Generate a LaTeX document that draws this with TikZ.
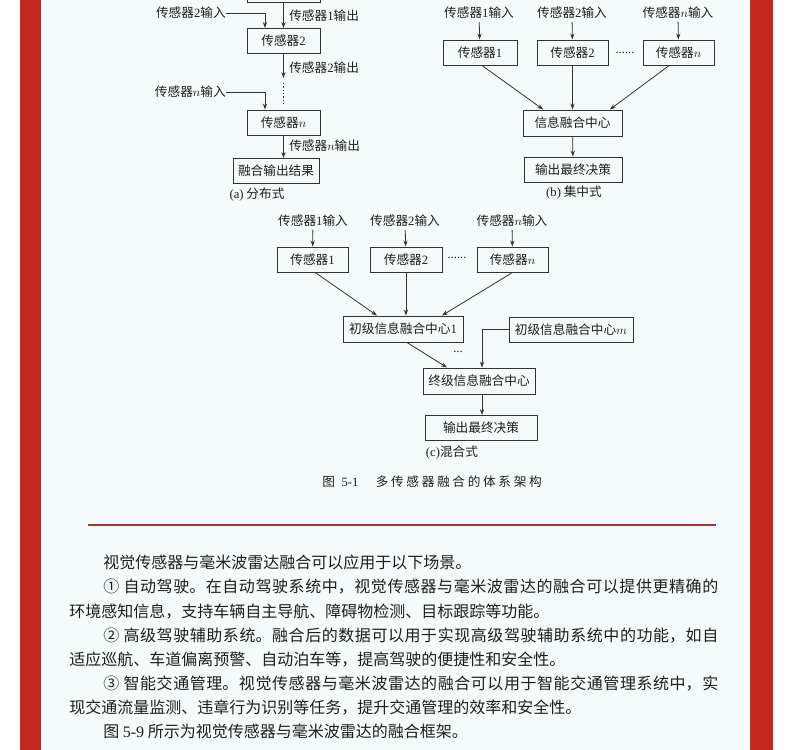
\documentclass[tikz,border=0pt]{standalone}
\usepackage{fontspec}
\setmainfont{Noto Sans CJK SC}
\newfontfamily\lat{Liberation Serif}
\usetikzlibrary{arrows.meta}
\XeTeXlinebreaklocale "zh"
\XeTeXlinebreakskip=0pt plus 1pt
\newcommand\tn[1]{{\lat #1}}
\newcommand\dfont{\fontsize{9.5pt}{11pt}\selectfont}
\definecolor{redc}{HTML}{C3291E}
\definecolor{lred}{HTML}{A8342C}
\definecolor{bgc}{HTML}{F4FBFA}
\definecolor{linec}{HTML}{333333}
\definecolor{txtc}{HTML}{1E1E1E}
\begin{document}
\begin{tikzpicture}[x=0.75pt,y=-0.75pt,
  box/.style={draw=linec, line width=0.75pt, inner sep=0pt, minimum height=18.75pt, font=\dfont, text=txtc, fill=bgc},
  arr/.style={draw=linec, line width=0.6pt, -{Stealth[length=4.5pt,width=3.2pt]}},
  lab/.style={inner sep=0pt, font=\dfont, text=txtc}]
\useasboundingbox (0,0) rectangle (790,750);
\clip (0,0) rectangle (790,750);
% background
\fill[white] (0,0) rectangle (790,750);
\fill[bgc] (41,0) rectangle (750,750);
\fill[redc] (20,0) rectangle (41,750);
\fill[redc] (750,0) rectangle (773,750);

% ---------- (a) distributed ----------
\node[box, minimum width=54.75pt] (a1) at (283.5,-10) {};
\node[box, minimum width=54.75pt] (a2) at (283.5,41) {传感器\tn{2}};
\node[box, minimum width=54.75pt] (an) at (283.5,122.5) {传感器$n$};
\node[box, minimum width=64.5pt] (af) at (276,171) {融合输出结果};
\node[lab, anchor=east] (in2a) at (226,13) {传感器\tn{2}输入};
\node[lab, anchor=east] (inna) at (226,92) {传感器$n$输入};
\node[lab, anchor=west] (o1a) at (289,16) {传感器\tn{1}输出};
\node[lab, anchor=west] (o2a) at (289,68) {传感器\tn{2}输出};
\node[lab, anchor=west] (ona) at (289,146) {传感器$n$输出};
\node[lab] (capa) at (257,195) {\tn{(a)} 分布式};
\draw[arr] (a1) -- (a2);
\draw[arr] (in2a.east) -| ([xshift=-13.9pt]a2.north);
\draw[arr] (a2.south) -- ([yshift=-18pt]a2.south);
\draw[linec, line width=0.9pt, dash pattern=on 0.9pt off 1.6pt] ([yshift=-21.75pt]a2.south) -- ([yshift=3.75pt]an.north);
\draw[arr] (inna.east) -| ([xshift=-13.9pt]an.north);
\draw[arr] (an.south) -- (an.south |- af.north);

% ---------- (b) centralized ----------
\node[lab] (ib1) at (479,13) {传感器\tn{1}输入};
\node[lab] (ib2) at (572,13) {传感器\tn{2}输入};
\node[lab] (ibn) at (678,13) {传感器$n$输入};
\node[box, minimum width=55.5pt] (b1) at (480,52.5) {传感器\tn{1}};
\node[box, minimum width=53.25pt] (b2) at (572.5,52.5) {传感器\tn{2}};
\node[box, minimum width=53.25pt] (bn) at (678.5,52.5) {传感器$n$};
\node[lab] (bdots) at (625,53) {\tn{......}};
\node[box, minimum width=74.25pt, minimum height=19.5pt] (bf) at (572.5,123) {信息融合中心};
\node[box, minimum width=73.5pt] (bo) at (573,169.5) {输出最终决策};
\node[lab] (capb) at (574,193) {\tn{(b)} 集中式};
\draw[arr, shorten <=2pt] (ib1) -- (b1);
\draw[arr, shorten <=2pt] (ib2) -- (b2);
\draw[arr, shorten <=2pt] (ibn) -- (bn);
\draw[arr] ([xshift=1.5pt]b1.south) -- ([xshift=-22pt]bf.north);
\draw[arr] (b2) -- (bf);
\draw[arr] ([xshift=-7pt]bn.south) -- ([xshift=28pt]bf.north);
\draw[arr] (bf) -- (bo);

% ---------- (c) hybrid ----------
\node[lab] (ic1) at (313,221) {传感器\tn{1}输入};
\node[lab] (ic2) at (405,221) {传感器\tn{2}输入};
\node[lab] (icn) at (512,221) {传感器$n$输入};
\node[box, minimum width=53.25pt] (c1) at (312.5,259.5) {传感器\tn{1}};
\node[box, minimum width=54pt] (c2) at (406,259.5) {传感器\tn{2}};
\node[box, minimum width=53.25pt] (cn) at (512.5,259.5) {传感器$n$};
\node[lab] (cdots) at (457,258) {\tn{......}};
\node[box, minimum width=90pt, minimum height=19.5pt] (p1) at (403,329) {初级信息融合中心\tn{1}};
\node[box, minimum width=93pt] (pm) at (571,329.5) {初级信息融合中心$m$};
\node[lab] (pdots) at (458,352) {\tn{...}};
\node[box, minimum width=84pt, minimum height=19.5pt] (fin) at (479,381) {终级信息融合中心};
\node[box, minimum width=84pt] (co) at (481,428) {输出最终决策};
\node[lab] (capc) at (452,453) {\tn{(c)}混合式};
\draw[arr, shorten <=2pt] (ic1) -- (c1);
\draw[arr, shorten <=2pt] (ic2) -- (c2);
\draw[arr, shorten <=2pt] (icn) -- (cn);
\draw[arr] ([xshift=2pt]c1.south) -- ([xshift=-19.5pt]p1.north);
\draw[arr] (c2.south) -- (c2.south |- p1.north);
\draw[arr] (cn.south) -- ([xshift=29.25pt]p1.north);
\draw[arr] (pm.west) -| ([xshift=2.25pt]fin.north);
\draw[arr] ([xshift=3pt]p1.south) -- ([xshift=-24pt]fin.north);
\draw[arr] ([xshift=2.25pt]fin.south) -- ([xshift=0.75pt]co.north);

% figure caption
\node[lab, anchor=west, font=\fontsize{9.5pt}{11pt}\selectfont] (figcap) at (322,482)
  {图\kern5pt\tn{5-1}\kern13pt 多\kern2pt 传\kern2pt 感\kern2pt 器\kern2pt 融\kern2pt 合\kern2pt 的\kern2pt 体\kern2pt 系\kern2pt 架\kern2pt 构};

% red rule
\draw[lred, line width=1.6pt] (88,525) -- (716,525);

% body text
\node[anchor=north west, inner sep=0pt, text width=486.75pt, align=justify, text=txtc,
      font=\fontsize{12pt}{18.1pt}\selectfont] (body) at (69,555) {%
\hspace*{25.5pt}视觉传感器与毫米波雷达融合可以应用于以下场景。\par
\hspace*{25.5pt}① 自动驾驶。在自动驾驶系统中，视觉传感器与毫米波雷达的融合可以提供更精确的\linebreak
环境感知信息，支持车辆自主导航、障碍物检测、目标跟踪等功能。\par
\hspace*{25.5pt}② 高级驾驶辅助系统。融合后的数据可以用于实现高级驾驶辅助系统中的功能，如自\linebreak
适应巡航、车道偏离预警、自动泊车等，提高驾驶的便捷性和安全性。\par
\hspace*{25.5pt}③ 智能交通管理。视觉传感器与毫米波雷达的融合可以用于智能交通管理系统中，实\linebreak
现交通流量监测、违章行为识别等任务，提升交通管理的效率和安全性。\par
\hspace*{25.5pt}图 \tn{5-9} 所示为视觉传感器与毫米波雷达的融合框架。\par};
\end{tikzpicture}
\end{document}
